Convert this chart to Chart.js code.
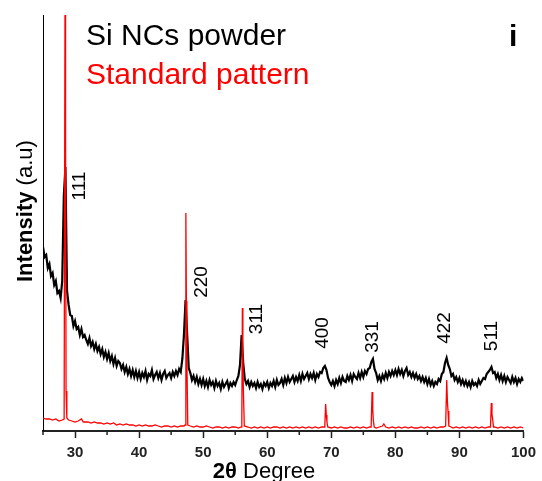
<!DOCTYPE html>
<html>
<head>
<meta charset="utf-8">
<script src="https://cdn.jsdelivr.net/npm/chart.js@4.4.1/dist/chart.umd.min.js"></script>
<style>
  html, body { margin: 0; padding: 0; background: #fff; }
  #wrap { width: 542px; height: 481px; }
</style>
</head>
<body>
<div id="wrap"><canvas id="xrd" width="542" height="481"></canvas></div>
<script>
const FONT = '"Liberation Sans", Arial, sans-serif';

// Si NCs powder, 25..100 deg every 0.25 deg
const blackStart = 25;
const blackStep = 0.25;
const blackY = [
  184, 174, 176, 163, 167, 155, 158, 146, 150, 138, 140, 133, 150, 235, 264, 140, 126, 116, 115, 105,
  110, 102, 104, 96, 102, 94, 96, 91, 87, 93, 85, 89, 82, 87, 80, 84, 77, 82, 74, 79,
  72, 78, 70, 75, 67, 73, 65, 70, 68, 62, 66, 59, 64, 57, 62, 55, 61, 54, 60, 53,
  59, 52, 58, 54, 60, 51, 57, 55, 61, 52, 56, 59, 53, 58, 51, 57, 60, 53, 56, 58,
  53, 59, 55, 60, 56, 62, 59, 72, 96, 131, 97, 63, 58, 51, 55, 49, 54, 47, 52, 46,
  52, 45, 50, 44, 51, 46, 49, 43, 50, 45, 48, 42, 49, 44, 47, 50, 43, 48, 45, 49,
  46, 51, 55, 66, 96, 68, 52, 47, 50, 44, 49, 45, 48, 43, 49, 44, 47, 42, 48, 45,
  49, 43, 48, 45, 50, 44, 51, 46, 48, 52, 46, 53, 48, 54, 49, 52, 55, 49, 54, 50,
  56, 50, 57, 52, 55, 58, 52, 57, 53, 58, 51, 57, 54, 59, 58, 63, 65, 61, 53, 49,
  46, 50, 45, 51, 47, 53, 48, 54, 50, 49, 55, 51, 56, 50, 57, 54, 52, 58, 53, 59,
  54, 60, 57, 62, 63, 69, 72, 62, 58, 51, 55, 50, 56, 52, 58, 53, 59, 55, 60, 56,
  61, 56, 62, 57, 61, 55, 60, 63, 56, 59, 54, 58, 53, 57, 52, 55, 50, 54, 49, 53,
  47, 52, 46, 50, 45, 49, 47, 52, 50, 57, 59, 68, 73, 66, 62, 55, 57, 51, 54, 49,
  53, 47, 51, 46, 50, 45, 49, 44, 50, 46, 48, 45, 51, 47, 50, 53, 52, 57, 59, 61,
  64, 58, 59, 53, 57, 51, 56, 50, 55, 49, 54, 51, 48, 54, 49, 53, 47, 52, 49, 53, 50
];

// standard pattern
const redX = [
  25.0, 25.5, 26.0, 26.5, 27.0, 27.5, 28.0, 28.30, 28.44, 28.52, 28.60, 28.72, 29.0, 29.5,
  30.0, 30.5, 31.0, 31.3, 31.5, 32.0, 32.5, 33.0, 33.5, 34.0, 34.5, 35.0, 35.5, 36.0, 36.5,
  37.0, 37.5, 38.0, 38.5, 39.0, 39.5, 40.0, 40.5, 41.0, 41.5, 42.0, 42.5, 43.0, 43.5, 44.0,
  44.5, 45.0, 45.5, 46.0, 46.5, 47.0, 47.18, 47.30, 47.38, 47.46, 47.60, 48.0, 48.5, 49.0,
  49.5, 50.0, 50.5, 51.0, 51.5, 52.0, 52.5, 53.0, 53.5, 54.0, 54.5, 55.0, 55.5, 55.95, 56.03,
  56.12, 56.20, 56.28, 56.42, 57.0, 57.5, 58.0, 58.5, 59.0, 59.5, 60.0, 60.5, 61.0, 61.5,
  62.0, 62.5, 63.0, 63.5, 64.0, 64.5, 65.0, 65.5, 66.0, 66.5, 67.0, 67.5, 68.0, 68.5, 68.98,
  69.12, 69.22, 69.32, 69.45, 70.0, 70.5, 71.0, 71.5, 72.0, 72.5, 73.0, 73.5, 74.0, 74.5,
  75.0, 75.5, 76.0, 76.22, 76.37, 76.47, 76.56, 76.70, 77.0, 77.5, 78.0, 78.2, 78.5, 79.0,
  79.5, 80.0, 80.5, 81.0, 81.5, 82.0, 82.5, 83.0, 83.5, 84.0, 84.5, 85.0, 85.5, 86.0, 86.5,
  87.0, 87.5, 87.85, 88.02, 88.12, 88.22, 88.35, 88.7, 89.0, 89.5, 90.0, 90.5, 91.0, 91.5,
  92.0, 92.5, 93.0, 93.5, 94.0, 94.5, 94.85, 94.98, 95.08, 95.18, 95.32, 95.5, 96.0, 96.5,
  97.0, 97.5, 98.0, 98.5, 99.0, 99.5, 100.0
];
const redY = [
  13, 12, 12, 11, 12, 10, 11, 12, 440, 300, 40, 13, 11, 10,
  9, 10, 12, 9, 9, 9, 8, 9, 8, 8, 7, 8, 7, 8, 6,
  7, 6, 7, 6, 6, 5, 6, 5, 6, 5, 5, 6, 5, 4, 5,
  5, 4, 5, 4, 5, 5, 6, 218, 130, 70, 6, 5, 4, 5,
  4, 4, 5, 4, 3, 4, 4, 3, 4, 3, 4, 4, 3, 4, 5,
  123, 78, 40, 5, 4, 3, 4, 3, 4, 3, 4, 3, 4, 4,
  3, 4, 3, 4, 3, 4, 3, 4, 3, 4, 3, 4, 3, 4, 4,
  27, 16, 9, 4, 3, 4, 3, 4, 3, 3, 4, 3, 4, 3,
  4, 3, 4, 4, 39, 22, 11, 4, 3, 4, 5, 7, 4, 3,
  4, 3, 4, 3, 4, 3, 4, 3, 3, 4, 3, 4, 3, 4, 3,
  4, 4, 5, 51, 30, 20, 5, 4, 3, 4, 3, 4, 3, 4,
  3, 4, 3, 4, 3, 4, 4, 28, 17, 12, 4, 4, 3, 4,
  3, 4, 3, 4, 3, 4, 3
];

const peakNames = ['111', '220', '311', '400', '331', '422', '511'];
const peakLabelX = [30.73, 49.79, 58.32, 68.65, 76.45, 87.76, 95.05];
const peakLabelY = [245, 149, 112, 98, 94, 103, 95];

const majorTicks = [30, 40, 50, 60, 70, 80, 90, 100];
const minorTicks = [25, 35, 45, 55, 65, 75, 85, 95];

const blackData = blackY.map((v, i) => ({ x: blackStart + i * blackStep, y: v }));
const redData = redX.map((v, i) => ({ x: v, y: redY[i] }));

const decor = {
  id: 'decor',
  afterDraw(chart) {
    const { ctx, scales: { x, y } } = chart;
    ctx.save();

    // minor ticks
    ctx.strokeStyle = '#222';
    ctx.lineWidth = 1.5;
    minorTicks.forEach((v) => {
      const px = x.getPixelForValue(v);
      ctx.beginPath();
      ctx.moveTo(px, x.top);
      ctx.lineTo(px, x.top + 4);
      ctx.stroke();
    });

    // peak labels
    ctx.fillStyle = '#000';
    ctx.font = '19px ' + FONT;
    ctx.textAlign = 'center';
    ctx.textBaseline = 'middle';
    peakNames.forEach((t, i) => {
      ctx.save();
      ctx.translate(x.getPixelForValue(peakLabelX[i]), y.getPixelForValue(peakLabelY[i]));
      ctx.rotate(-Math.PI / 2);
      ctx.fillText(t, 0, 0);
      ctx.restore();
    });

    // legend text
    ctx.textAlign = 'left';
    ctx.textBaseline = 'alphabetic';
    ctx.font = '30px ' + FONT;
    ctx.fillStyle = '#000';
    ctx.fillText('Si NCs powder', 86, 45);
    ctx.fillStyle = '#ff0000';
    ctx.fillText('Standard pattern', 86, 84);
    ctx.fillStyle = '#000';
    ctx.font = 'bold 30px ' + FONT;
    ctx.fillText('i', 509, 46);

    // x title
    const b = 'bold 22px ' + FONT, n = '22px ' + FONT;
    ctx.font = b;
    const w1 = ctx.measureText('2θ').width;
    ctx.font = n;
    const w2 = ctx.measureText(' Degree').width;
    let sx = 264 - (w1 + w2) / 2;
    ctx.font = b;
    ctx.fillText('2θ', sx, 478);
    ctx.font = n;
    ctx.fillText(' Degree', sx + w1, 478);

    // y title
    ctx.translate(32, 282);
    ctx.rotate(-Math.PI / 2);
    ctx.font = b;
    const w3 = ctx.measureText('Intensity').width;
    ctx.fillText('Intensity', 0, 0);
    ctx.font = n;
    ctx.fillText(' (a.u)', w3, 0);

    ctx.restore();
  }
};

new Chart(document.getElementById('xrd'), {
  type: 'line',
  data: {
    datasets: [
      { label: 'Standard pattern', data: redData, borderColor: '#ff0000', borderWidth: 1.3 },
      { label: 'Si NCs powder', data: blackData, borderColor: '#000000', borderWidth: 2.2, borderJoinStyle: 'miter' }
    ]
  },
  options: {
    responsive: false,
    animation: false,
    events: [],
    layout: { padding: { left: 43, top: 15, right: 15, bottom: 0 } },
    elements: { point: { radius: 0 }, line: { tension: 0 } },
    plugins: { legend: { display: false }, tooltip: { enabled: false } },
    scales: {
      x: {
        type: 'linear',
        min: 25,
        max: 100,
        afterBuildTicks: (s) => { s.ticks = majorTicks.map((v) => ({ value: v })); },
        afterFit: (s) => { s.height = 50; },
        ticks: {
          autoSkip: false,
          maxRotation: 0,
          padding: 6,
          color: '#222',
          font: { family: FONT, size: 15, weight: 'bold' }
        },
        grid: { drawOnChartArea: false, tickLength: 7, tickColor: '#222', tickWidth: 1.5 },
        border: { color: '#222', width: 2 }
      },
      y: {
        min: 0,
        max: 416,
        afterFit: (s) => { s.width = 0; },
        ticks: { display: false },
        grid: { display: false },
        border: { color: '#000', width: 1 }
      }
    }
  },
  plugins: [decor]
});
</script>
</body>
</html>
